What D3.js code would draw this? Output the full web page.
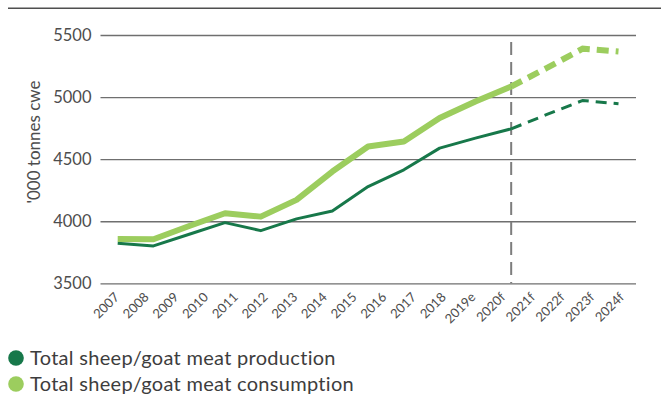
<!DOCTYPE html>
<html>
<head>
<meta charset="utf-8">
<script src="https://cdn.jsdelivr.net/npm/d3@7"></script>
<style>
  html, body { margin: 0; padding: 0; background: #fff; }
  svg { display: block; font-family: Lato, "Open Sans", sans-serif; }
</style>
</head>
<body>
<svg id="chart" width="661" height="399"></svg>
<script>
// Axis labels along the bottom
const tickLabels = ["2007", "2008", "2009", "2010", "2011", "2012", "2013", "2014", "2015",
  "2016", "2017", "2018", "2019e", "2020f", "2021f", "2022f", "2023f", "2024f"];

// Series, '000 tonnes cwe
const production  = [3823, 3801, 3895, 3989, 3924, 4019, 4083, 4279, 4414, 4589, 4669, 4744, 4860, 4973, 4946];
const consumption = [3857, 3855, 3962, 4064, 4037, 4172, 4400, 4602, 4642, 4831, 4965, 5085, 5235, 5390, 5368];

// First point of the forecast period (drawn dashed from here on)
const forecastStart = 11;

const yTicks = [3500, 4000, 4500, 5000, 5500];

const seriesNames = ["Total sheep/goat meat production", "Total sheep/goat meat consumption"];
const seriesColors = ["#17784a", "#9ccd5e"];
const seriesWidths = [3, 6];
const seriesDash = ["11,7", "12,7"];

const svg = d3.select("#chart");

const y = d3.scaleLinear().domain([3500, 5500]).range([283.3, 35]);
const xPts = d3.scalePoint().domain(d3.range(production.length)).range([117.7, 618.5]);
const xLab = d3.scalePoint().domain(tickLabels).range([120, 625]);

// Top rule
svg.append("line")
  .attr("x1", 8).attr("x2", 661).attr("y1", 8.3).attr("y2", 8.3)
  .attr("stroke", "#4f4f4f").attr("stroke-width", 1.5);

// Gridlines and y tick labels
const yAxis = d3.axisLeft(y).tickValues(yTicks).tickSize(-535.5).tickPadding(9).tickFormat(d3.format("d"));
const gy = svg.append("g").attr("transform", "translate(100.5,0)").call(yAxis);
gy.select(".domain").remove();
gy.selectAll(".tick line").attr("stroke", "#6f6f6f").attr("stroke-width", 1.3);
gy.selectAll(".tick text")
  .attr("fill", "#4d4d4d")
  .style("font-size", "16.5px")
  .style("font-family", "Lato, sans-serif");

// y axis title
svg.append("text")
  .attr("transform", "translate(40,142) rotate(-90)")
  .attr("text-anchor", "middle")
  .attr("fill", "#4d4d4d")
  .style("font-size", "17px")
  .text("'000 tonnes cwe");

// x labels, rotated
svg.append("g").selectAll("text")
  .data(tickLabels)
  .join("text")
  .attr("transform", d => `translate(${xLab(d)},298) rotate(-45)`)
  .attr("text-anchor", "end")
  .attr("fill", "#4d4d4d")
  .style("font-size", "13px")
  .text(d => d);

// Forecast divider
svg.append("line")
  .attr("x1", xPts(forecastStart)).attr("x2", xPts(forecastStart))
  .attr("y1", 42).attr("y2", y(3500))
  .attr("stroke", "#7d7d7d").attr("stroke-width", 2)
  .attr("stroke-dasharray", "13,7");

// Lines: solid history, dashed forecast
const line = d3.line().x(d => xPts(d.i)).y(d => y(d.v));
[production, consumption].forEach((vals, s) => {
  const pts = vals.map((v, i) => ({ i, v }));
  svg.append("path")
    .datum(pts.slice(0, forecastStart + 1))
    .attr("d", line)
    .attr("fill", "none")
    .attr("stroke", seriesColors[s])
    .attr("stroke-width", seriesWidths[s])
    .attr("stroke-linejoin", "round");
  svg.append("path")
    .datum(pts.slice(forecastStart))
    .attr("d", line)
    .attr("fill", "none")
    .attr("stroke", seriesColors[s])
    .attr("stroke-width", seriesWidths[s])
    .attr("stroke-dasharray", seriesDash[s]);
});

// Legend
const lg = svg.append("g").selectAll("g")
  .data(seriesNames)
  .join("g")
  .attr("transform", (d, i) => `translate(16,${358 + i * 26})`);
lg.append("circle").attr("r", 7.8).attr("fill", (d, i) => seriesColors[i]);
lg.append("text")
  .attr("x", 14).attr("y", 7)
  .attr("fill", "#3d3d3d")
  .style("font-size", "20px")
  .style("letter-spacing", "0.3px")
  .text(d => d);
</script>
</body>
</html>
